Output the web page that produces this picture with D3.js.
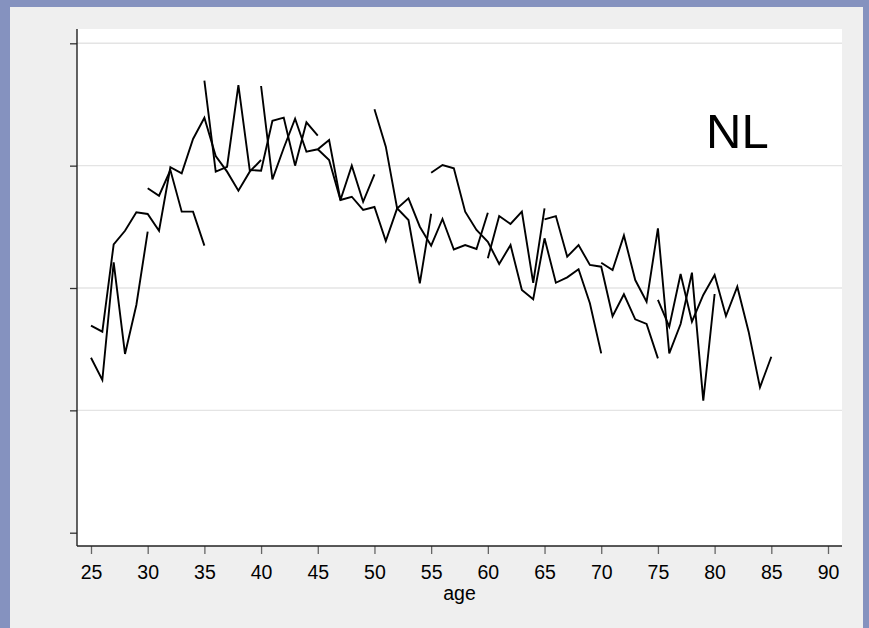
<!DOCTYPE html>
<html>
<head>
<meta charset="utf-8">
<script src="https://cdn.jsdelivr.net/npm/d3@7"></script>
<style>
  html, body { margin: 0; padding: 0; background: #8592bf; }
  svg { display: block; }
  text { font-family: "Liberation Sans", Arial, Helvetica, sans-serif; }
</style>
</head>
<body>
<svg id="chart" width="869" height="628"></svg>
<script>
// Age axis and (unlabelled) value axis ticks
const ageTicks = [25, 30, 35, 40, 45, 50, 55, 60, 65, 70, 75, 80, 85, 90];
const valueTicks = [0, 1, 2, 3, 4];

// First age of each cohort profile
const cohortStart = [25, 25, 30, 35, 40, 45, 50, 55, 60, 65, 70, 75];

// Yearly values of each cohort profile, one entry per year of age
const cohortA = [1.692, 1.643, 2.357, 2.468, 2.619, 2.605, 2.468, 2.987, 2.937, 3.218, 3.392, 3.079, 2.951, 2.795, 2.951, 3.046];
const cohortB = [1.430, 1.248, 2.210, 1.461, 1.861, 2.460];
const cohortC = [2.815, 2.754, 2.964, 2.624, 2.624, 2.346];
const cohortD = [3.694, 2.951, 2.991, 3.659, 2.964, 2.959, 3.367, 3.392, 3.000, 3.354, 3.245];
const cohortE = [3.651, 2.888, 3.144, 3.384, 3.114, 3.134, 3.210, 2.719, 3.000, 2.705, 2.929];
const cohortF = [3.134, 3.046, 2.719, 2.746, 2.638, 2.662, 2.384, 2.651, 2.556, 2.038, 2.607];
const cohortG = [3.461, 3.155, 2.651, 2.733, 2.501, 2.346, 2.564, 2.315, 2.351, 2.319, 2.615];
const cohortH = [2.942, 3.005, 2.978, 2.624, 2.474, 2.378, 2.196, 2.351, 1.984, 1.908, 2.406, 2.043, 2.087, 2.153, 1.875, 1.466];
const cohortI = [2.243, 2.588, 2.523, 2.624, 2.043, 2.651];
const cohortJ = [2.561, 2.588, 2.256, 2.351, 2.188, 2.174, 1.769, 1.949, 1.744, 1.706, 1.425];
const cohortK = [2.207, 2.147, 2.429, 2.065, 1.888, 2.488, 1.466, 1.706, 2.125, 1.079, 1.951];
const cohortL = [1.902, 1.684, 2.114, 1.725, 1.943, 2.106, 1.771, 2.011, 1.643, 1.188, 1.438];

const cohortValues = [cohortA, cohortB, cohortC, cohortD, cohortE, cohortF,
                      cohortG, cohortH, cohortI, cohortJ, cohortK, cohortL];

const countryLabel = "NL";
const xTitle = "age";

// Pair each value with its age
const cohorts = cohortValues.map((vals, i) =>
  vals.map((v, k) => ({ age: cohortStart[i] + k, value: v })));

const svg = d3.select("#chart");
const W = 869, H = 628;

// Outer frame and graph region
svg.append("rect").attr("x", 0).attr("y", 0).attr("width", W).attr("height", H).attr("fill", "#8592bf");
svg.append("rect").attr("x", 10).attr("y", 7).attr("width", 853).attr("height", H - 7).attr("fill", "#efefef");

const plot = { left: 77, right: 842, top: 29, bottom: 546 };
svg.append("rect")
  .attr("x", plot.left).attr("y", plot.top)
  .attr("width", plot.right - plot.left).attr("height", plot.bottom - plot.top)
  .attr("fill", "#ffffff");

const x = d3.scaleLinear().domain([25, 90]).range([91, 828]);
const y = d3.scaleLinear().domain([0, 4]).range([532.7, 43.3]);

// Horizontal grid lines
svg.append("g")
  .selectAll("line")
  .data(valueTicks.filter(t => t > 0))
  .join("line")
  .attr("x1", plot.left).attr("x2", plot.right)
  .attr("y1", d => y(d)).attr("y2", d => y(d))
  .attr("stroke", "#e4e4e4").attr("stroke-width", 1.4);

// Cohort profiles
const line = d3.line().x(d => x(d.age)).y(d => y(d.value));
svg.append("g")
  .selectAll("path")
  .data(cohorts)
  .join("path")
  .attr("d", line)
  .attr("fill", "none")
  .attr("stroke", "#000")
  .attr("stroke-width", 1.9)
  .attr("stroke-linejoin", "miter")
  .attr("stroke-miterlimit", 4);

// Bottom axis
const xAxis = svg.append("g")
  .attr("transform", `translate(0,${plot.bottom})`)
  .call(d3.axisBottom(x).tickValues(ageTicks).tickSize(8).tickPadding(11).tickSizeOuter(0));
xAxis.select(".domain").remove();
xAxis.selectAll(".tick line").attr("stroke", "#666").attr("stroke-width", 1.3);
xAxis.selectAll(".tick text")
  .attr("font-size", 19.5)
  .attr("fill", "#000")
  .style("font-family", "'Liberation Sans', Arial, sans-serif");

svg.append("line")
  .attr("x1", plot.left).attr("x2", plot.right)
  .attr("y1", plot.bottom).attr("y2", plot.bottom)
  .attr("stroke", "#222").attr("stroke-width", 1.4);

// Left axis: ticks only
const yAxis = svg.append("g")
  .attr("transform", `translate(${plot.left},0)`)
  .call(d3.axisLeft(y).tickValues(valueTicks).tickSize(7).tickFormat(""));
yAxis.select(".domain").remove();
yAxis.selectAll(".tick line").attr("stroke", "#333").attr("stroke-width", 1.3);

svg.append("line")
  .attr("x1", plot.left).attr("x2", plot.left)
  .attr("y1", plot.top).attr("y2", plot.bottom)
  .attr("stroke", "#222").attr("stroke-width", 1.4);

// Axis title
svg.append("text")
  .attr("x", (plot.left + plot.right) / 2)
  .attr("y", 600)
  .attr("text-anchor", "middle")
  .attr("font-size", 19.5)
  .attr("fill", "#000")
  .text(xTitle);

// Country label
svg.append("text")
  .attr("x", 706)
  .attr("y", 148)
  .attr("font-size", 49)
  .attr("fill", "#000")
  .text(countryLabel);
</script>
</body>
</html>
